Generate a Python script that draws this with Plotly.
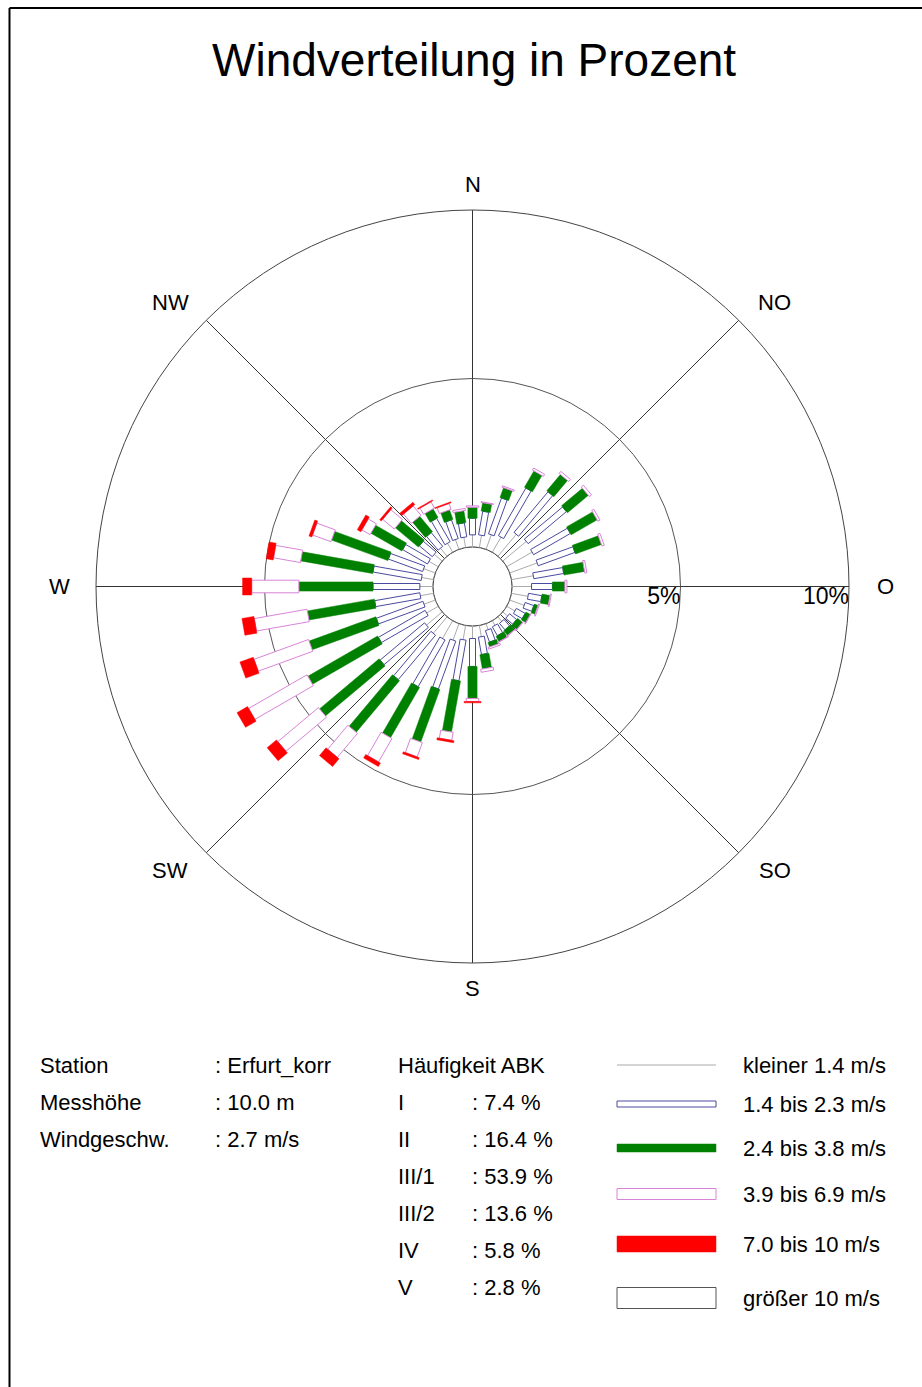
import math
import plotly.graph_objects as go

# ---------------------------------------------------------------------------
# Data: wind direction sectors (degrees, clockwise from north) and the share
# (percent of all hours) falling into each wind speed class per sector.
# ---------------------------------------------------------------------------
directions = list(range(0, 360, 10))

compass_angles = [0, 45, 90, 135, 180, 225, 270, 315]
compass_labels = ["N", "NO", "O", "SO", "S", "SW", "W", "NW"]

speed_classes = ["kleiner 1.4 m/s", "1.4 bis 2.3 m/s", "2.4 bis 3.8 m/s",
                 "3.9 bis 6.9 m/s", "7.0 bis 10 m/s", "größer 10 m/s"]

pct_lt_1_4 = [0.36, 0.37, 0.46, 0.52, 0.85, 0.91, 0.87, 0.87, 0.66, 0.58,
              0.50, 0.46, 0.28, 0.19, 0.18, 0.16, 0.19, 0.34, 0.37, 0.43,
              0.52, 0.61, 0.64, 0.61, 0.40, 0.36, 0.40, 0.39, 0.36, 0.37,
              0.32, 0.31, 0.31, 0.31, 0.31, 0.31]
pct_1_4_2_3 = [0.49, 0.71, 1.13, 1.63, 1.57, 1.48, 1.26, 1.16, 0.90, 0.62,
               0.40, 0.27, 0.30, 0.27, 0.25, 0.30, 0.36, 0.52, 0.83, 1.22,
               1.51, 1.60, 1.72, 1.72, 1.60, 1.47, 1.36, 1.39, 1.45, 1.08,
               0.85, 0.50, 0.53, 0.80, 0.59, 0.42]
pct_2_4_3_8 = [0.33, 0.25, 0.31, 0.56, 0.63, 0.81, 0.89, 0.82, 0.62, 0.37,
               0.24, 0.12, 0.15, 0.19, 0.18, 0.18, 0.14, 0.43, 0.95, 1.54,
               1.66, 1.72, 2.00, 2.31, 2.39, 2.11, 2.02, 2.20, 2.17, 1.78,
               1.06, 0.89, 0.59, 0.30, 0.30, 0.36]
pct_3_9_6_9 = [0.04, 0.02, 0.04, 0.07, 0.08, 0.08, 0.07, 0.07, 0.06, 0.06,
               0.03, 0.03, 0.01, 0.01, 0.01, 0.01, 0.05, 0.09, 0.09, 0.24,
               0.45, 0.80, 0.93, 1.57, 2.00, 1.72, 1.59, 1.40, 0.81, 0.58,
               0.28, 0.45, 0.36, 0.21, 0.18, 0.06]
pct_7_0_10 = [0.00, 0.00, 0.00, 0.00, 0.00, 0.00, 0.00, 0.00, 0.00, 0.00,
              0.00, 0.00, 0.00, 0.00, 0.00, 0.00, 0.00, 0.00, 0.04, 0.06,
              0.06, 0.12, 0.30, 0.36, 0.36, 0.42, 0.36, 0.27, 0.21, 0.09,
              0.12, 0.06, 0.09, 0.03, 0.03, 0.00]
pct_gt_10 = [0.00, 0.00, 0.00, 0.00, 0.00, 0.00, 0.00, 0.00, 0.00, 0.00,
             0.00, 0.00, 0.00, 0.00, 0.00, 0.00, 0.00, 0.00, 0.00, 0.00,
             0.00, 0.00, 0.00, 0.00, 0.00, 0.00, 0.00, 0.00, 0.00, 0.00,
             0.00, 0.00, 0.00, 0.00, 0.00, 0.00]

ring_values = [5, 10]
ring_labels = ["5%", "10%"]

station_rows = [("Station", ": Erfurt_korr"),
                ("Messhöhe", ": 10.0 m"),
                ("Windgeschw.", ": 2.7 m/s")]
abk_header = "Häufigkeit ABK"
abk_rows = [("I", ": 7.4 %"), ("II", ": 16.4 %"), ("III/1", ": 53.9 %"),
            ("III/2", ": 13.6 %"), ("IV", ": 5.8 %"), ("V", ": 2.8 %")]

# ---------------------------------------------------------------------------
# Page geometry (pixels)
# ---------------------------------------------------------------------------
W, H = 922, 1387
CX, CY = 472.5, 586.5        # centre of the rose
R_OUT, R_HOLE = 376.5, 39.5  # outer ring (10 %) and calm circle (0 %)
RMAX = 10.0
PX_PER_PCT = (R_OUT - R_HOLE) / RMAX
HOLE_U = R_HOLE / PX_PER_PCT  # hole radius expressed in percent units
LABEL_DX, LABEL_DY = 36, 25   # compass label offsets from the outer ring

FONT = "Liberation Sans, Arial, sans-serif"


def px_x(x):
    return x / W


def px_y(y):
    return 1 - y / H


# segment styles: half width (px), fill colour, outline colour, outline width
seg_styles = [
    None,  # lowest class drawn as a hairline
    dict(hw=3.0, fill="#ffffff", line="#4a4a9e", lw=1.0),
    dict(hw=4.6, fill="#008000", line="#008000", lw=0.5),
    dict(hw=6.3, fill="#ffffff", line="#d884d8", lw=1.0),
    dict(hw=8.5, fill="#ff0000", line="#ff0000", lw=0.5),
    dict(hw=10.5, fill="#ffffff", line="#555555", lw=1.0),
]
hair_color = "#ababab"

series = [pct_lt_1_4, pct_1_4_2_3, pct_2_4_3_8, pct_3_9_6_9, pct_7_0_10, pct_gt_10]


def rect_polar(theta, start, end, half_w_px):
    """Corners of a straight bar of constant pixel width along `theta`."""
    hw = half_w_px / PX_PER_PCT
    rs, ts = [], []
    for d, o in [(start, -hw), (end, -hw), (end, hw), (start, hw), (start, -hw)]:
        D = HOLE_U + d
        rho = math.hypot(D, o)
        rs.append(rho - HOLE_U)
        ts.append(theta + math.degrees(math.atan2(o, D)))
    return rs, ts


fig = go.Figure()

# calm circle (0 %)
fig.add_trace(go.Scatterpolar(
    r=[0] * 361, theta=list(range(361)), mode="lines",
    line=dict(color="#707070", width=1), hoverinfo="skip", showlegend=False))

# cumulative stacking per direction
base = [0.0] * len(directions)
for k, vals in enumerate(series):
    style = seg_styles[k]
    rr, tt = [], []
    for i, th in enumerate(directions):
        s = base[i]
        e = s + vals[i]
        if vals[i] > 0:
            if style is None:
                rr += [s, e, None]
                tt += [th, th, None]
            else:
                r_, t_ = rect_polar(th, s, e, style["hw"])
                rr += r_ + [None]
                tt += t_ + [None]
        base[i] = e
    if not rr:
        continue
    if style is None:
        fig.add_trace(go.Scatterpolar(
            r=rr, theta=tt, mode="lines", line=dict(color=hair_color, width=1),
            name=speed_classes[k], hoverinfo="skip", showlegend=False))
    else:
        fig.add_trace(go.Scatterpolar(
            r=rr, theta=tt, mode="lines", fill="toself",
            fillcolor=style["fill"], line=dict(color=style["line"], width=style["lw"]),
            name=speed_classes[k], hoverinfo="skip", showlegend=False))

# ring labels
fig.add_trace(go.Scatterpolar(
    r=ring_values, theta=[90] * len(ring_values), mode="text",
    text=ring_labels, textposition="bottom left",
    textfont=dict(family=FONT, size=23, color="#000000"),
    hoverinfo="skip", showlegend=False))

fig.update_layout(
    width=W, height=H, margin=dict(l=0, r=0, t=0, b=0),
    paper_bgcolor="white", plot_bgcolor="white", showlegend=False,
    polar=dict(
        domain=dict(x=[px_x(CX - R_OUT), px_x(CX + R_OUT)],
                    y=[px_y(CY + R_OUT), px_y(CY - R_OUT)]),
        hole=R_HOLE / R_OUT,
        bgcolor="white",
        radialaxis=dict(range=[0, RMAX], tickvals=[5], showticklabels=False,
                        ticks="", showline=False, gridcolor="#555555",
                        gridwidth=1, layer="below traces"),
        angularaxis=dict(rotation=90, direction="clockwise",
                         tickmode="array", tickvals=compass_angles,
                         showticklabels=False, ticks="",
                         showline=True, linecolor="#444444", linewidth=1,
                         gridcolor="#333333", gridwidth=1,
                         layer="below traces"),
    ),
)

annotations = []
# title
annotations.append(dict(x=px_x(474), y=px_y(60), xref="paper", yref="paper",
                        text="Windverteilung in Prozent", showarrow=False,
                        xanchor="center", yanchor="middle",
                        font=dict(family=FONT, size=46, color="#000000")))

# compass labels just outside the outer ring
for ang, lab in zip(compass_angles, compass_labels):
    a = math.radians(ang)
    sx, cy_ = math.sin(a), math.cos(a)
    side = 0 if abs(sx) < 1e-9 else math.copysign(1, sx)
    lx = CX + R_OUT * sx + LABEL_DX * side
    ly = CY - R_OUT * cy_ - LABEL_DY * cy_
    annotations.append(dict(x=px_x(lx), y=px_y(ly),
                            xref="paper", yref="paper", text=lab, showarrow=False,
                            xanchor="center", yanchor="middle",
                            font=dict(family=FONT, size=22, color="#000000")))

# station block
row_y = [1065, 1102, 1139]
for (lab, val), y in zip(station_rows, row_y):
    annotations.append(dict(x=px_x(38), y=px_y(y), xref="paper", yref="paper",
                            text=lab, showarrow=False, xanchor="left", yanchor="middle",
                            font=dict(family=FONT, size=22, color="#000000")))
    annotations.append(dict(x=px_x(213), y=px_y(y), xref="paper", yref="paper",
                            text=val, showarrow=False, xanchor="left", yanchor="middle",
                            font=dict(family=FONT, size=22, color="#000000")))

# ABK frequency block
annotations.append(dict(x=px_x(396), y=px_y(1065), xref="paper", yref="paper",
                        text=abk_header, showarrow=False, xanchor="left", yanchor="middle",
                        font=dict(family=FONT, size=22, color="#000000")))
abk_y = [1102, 1139, 1176, 1213, 1250, 1287]
for (lab, val), y in zip(abk_rows, abk_y):
    annotations.append(dict(x=px_x(396), y=px_y(y), xref="paper", yref="paper",
                            text=lab, showarrow=False, xanchor="left", yanchor="middle",
                            font=dict(family=FONT, size=22, color="#000000")))
    annotations.append(dict(x=px_x(470), y=px_y(y), xref="paper", yref="paper",
                            text=val, showarrow=False, xanchor="left", yanchor="middle",
                            font=dict(family=FONT, size=22, color="#000000")))

# speed class key
key_y = [1065, 1104, 1148, 1194, 1244, 1298]
key_h = [0, 6, 8, 11, 16, 21]
shapes = []
for k, (lab, y) in enumerate(zip(speed_classes, key_y)):
    annotations.append(dict(x=px_x(741), y=px_y(y), xref="paper", yref="paper",
                            text=lab, showarrow=False, xanchor="left", yanchor="middle",
                            font=dict(family=FONT, size=22, color="#000000")))
    style = seg_styles[k]
    if style is None:
        shapes.append(dict(type="line", xref="paper", yref="paper",
                           x0=px_x(617), x1=px_x(716), y0=px_y(y), y1=px_y(y),
                           line=dict(color=hair_color, width=1)))
    else:
        h = key_h[k]
        shapes.append(dict(type="rect", xref="paper", yref="paper",
                           x0=px_x(617), x1=px_x(716),
                           y0=px_y(y + h / 2), y1=px_y(y - h / 2),
                           fillcolor=style["fill"],
                           line=dict(color=style["line"], width=style["lw"])))

# page frame (left and top edges)
shapes.append(dict(type="line", xref="paper", yref="paper",
                   x0=px_x(9.5), x1=px_x(9.5), y0=px_y(8), y1=0,
                   line=dict(color="#000000", width=2)))
shapes.append(dict(type="line", xref="paper", yref="paper",
                   x0=px_x(9.5), x1=1, y0=px_y(8), y1=px_y(8),
                   line=dict(color="#000000", width=2)))

fig.update_layout(annotations=annotations, shapes=shapes)

fig.write_html("out.html")
